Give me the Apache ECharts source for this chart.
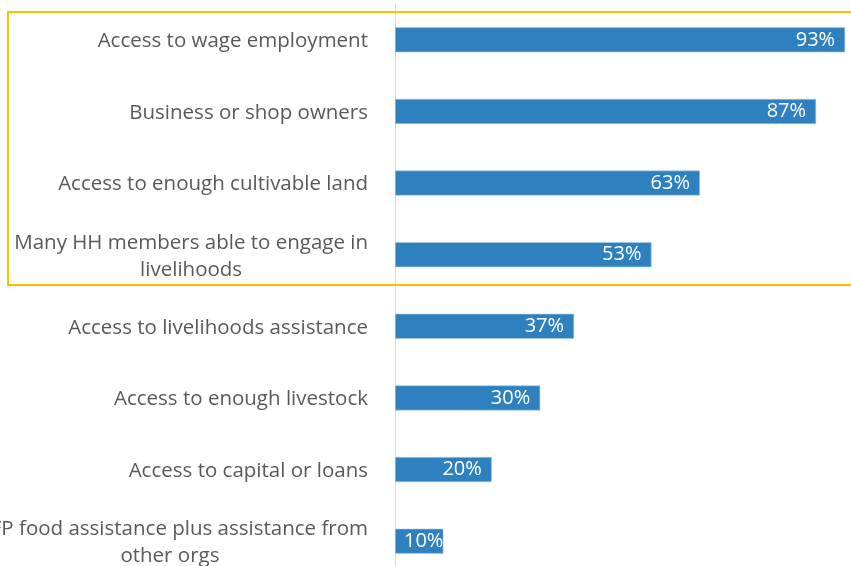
<!DOCTYPE html>
<html>
<head>
<meta charset="utf-8">
<script src="https://cdn.jsdelivr.net/npm/echarts@6/dist/echarts.min.js"></script>
<style>
  html, body { margin: 0; padding: 0; background: #ffffff; }
  #chart { width: 851px; height: 566px; }
</style>
</head>
<body>
<div id="chart"></div>
<script>
// Livelihood factors and share of households reporting each (%)
const categories = [
  'Access to wage employment',
  'Business or shop owners',
  'Access to enough cultivable land',
  'Many HH members able to engage in\nlivelihoods',
  'Access to livelihoods assistance',
  'Access to enough livestock',
  'Access to capital or loans',
  'WFP food assistance plus assistance from\nother orgs'
];
const shares = [93, 87, 63, 53, 37, 30, 20, 10];

const FONT = '"Open Sans", "Noto Sans", sans-serif';
const chart = echarts.init(document.getElementById('chart'));

// short bars get their value label anchored at the start instead of the end
const barData = shares.map(v => v < 15
  ? { value: v, label: { position: 'insideLeft', distance: 9 } }
  : v);

chart.setOption({
  animation: false,
  backgroundColor: '#ffffff',
  // plot area runs past the right and bottom edges of the page
  grid: { left: 395, top: 4, width: 484, height: 573, containLabel: false, outerBoundsMode: 'none' },
  xAxis: {
    type: 'value',
    min: 0,
    max: 100,
    show: false
  },
  yAxis: {
    type: 'category',
    inverse: true,
    data: categories,
    axisLine: { show: true, lineStyle: { color: '#d9d9d9', width: 1 } },
    axisTick: { show: false },
    axisLabel: {
      margin: 27,
      color: '#595959',
      fontFamily: FONT,
      fontSize: 20.5,
      lineHeight: 27,
      // each line centred within the right-aligned label block
      formatter: v => v.split('\n').map(s => '{c|' + s + '}').join('\n'),
      rich: {
        c: { align: 'center', color: '#595959', fontFamily: FONT, fontSize: 20.5, lineHeight: 27, padding: [3, 0, 0, 0] }
      }
    }
  },
  series: [{
    type: 'bar',
    data: barData,
    barWidth: 25,
    itemStyle: { color: '#2e80bf', borderColor: '#a8cbe8', borderWidth: 0.6 },
    label: {
      show: true,
      position: 'insideRight',
      distance: 10,
      color: '#ffffff',
      fontFamily: FONT,
      fontSize: 20,
      formatter: p => p.value + '%'
    }
  }],
  graphic: [{
    type: 'rect',
    shape: { x: 8, y: 12, width: 900, height: 273 },
    style: { fill: 'none', stroke: '#ffc000', lineWidth: 2 },
    z: 10
  }]
});
</script>
</body>
</html>
